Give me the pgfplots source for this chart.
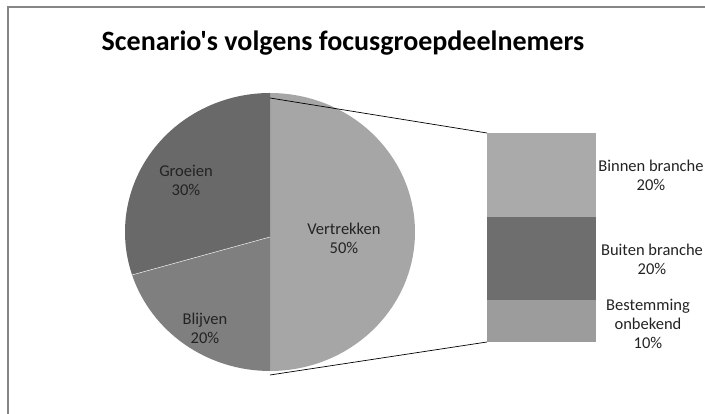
\documentclass[border=0pt]{standalone}
\usepackage{fontspec}
\setmainfont{Carlito}[Ligatures=TeXOff]
\usepackage{pgfplots}
\pgfplotsset{compat=1.18}

\definecolor{frame}{RGB}{134,134,134}
\definecolor{vertrek}{RGB}{166,166,166}
\definecolor{groei}{RGB}{105,105,105}
\definecolor{blijf}{RGB}{127,127,127}
\definecolor{binnen}{RGB}{170,170,170}
\definecolor{buiten}{RGB}{110,110,110}
\definecolor{onbek}{RGB}{156,156,156}
\definecolor{labeltxt}{RGB}{35,35,35}

\begin{document}
\begin{tikzpicture}[x=1pt,y=1pt]
\useasboundingbox (0,0) rectangle (705,414);
% canvas axis: one unit = one pixel of the reference, y upwards
\begin{axis}[
  at={(0,0)}, anchor=origin,
  scale only axis, width=705pt, height=414pt,
  xmin=0, xmax=705, ymin=0, ymax=414,
  hide axis, clip=false,
]
% chart frame
\addplot[frame, line width=1.2pt] coordinates {(8,-5) (8,407) (712,407)};

% pie: shares in percent, counterclockwise from the bottom
\foreach \share/\col [remember=\stop as \start (initially -90)] in {50/vertrek, 30/groei, 20/blijf} {
  \pgfmathsetmacro{\stop}{\start+3.6*\share}
  \edef\wedge{\noexpand\fill[\col] (axis cs:270,177) -- +(\start:145 and 139)
    arc[start angle=\start, end angle=\stop, x radius=145, y radius=139] -- cycle;}
  \wedge
}
\draw[white!85!gray, line width=0.5pt] (axis cs:270,177) -- +(198:145 and 139);

% connector lines from the Vertrekken slice to the bar
\addplot[black, line width=0.7pt] coordinates {(270,316) (487,281)};
\addplot[black, line width=0.7pt] coordinates {(270,39) (487,72)};

% slice labels
\begin{scope}[every node/.style={font=\fontsize{16.5}{19}\selectfont, text=labeltxt, align=center}]
\node at (axis cs:344,176) {Vertrekken\\50\%};
\node at (axis cs:186,234) {Groeien\\30\%};
\node at (axis cs:205,86) {Blijven\\20\%};
\node at (axis cs:651,239) {Binnen branche\\20\%};
\node at (axis cs:652,155) {Buiten branche\\20\%};
\node at (axis cs:648,90) {Bestemming\\onbekend\\10\%};
\end{scope}

% title
\node[font=\bfseries\fontsize{28}{32}\selectfont] at (axis cs:343,371) {Scenario's volgens focusgroepdeelnemers};
\end{axis}

% stacked bar of the Vertrekken share
\begin{axis}[
  at={(487pt,72pt)}, anchor=origin,
  scale only axis, width=109pt, height=209pt,
  xmin=0, xmax=1, ymin=0, ymax=50,
  hide axis, ybar stacked, bar width=109pt,
]
\addplot[fill=onbek, draw=none] coordinates {(0.5,10)};
\addplot[fill=buiten, draw=none] coordinates {(0.5,20)};
\addplot[fill=binnen, draw=none] coordinates {(0.5,20)};
\end{axis}
\end{tikzpicture}
\end{document}
